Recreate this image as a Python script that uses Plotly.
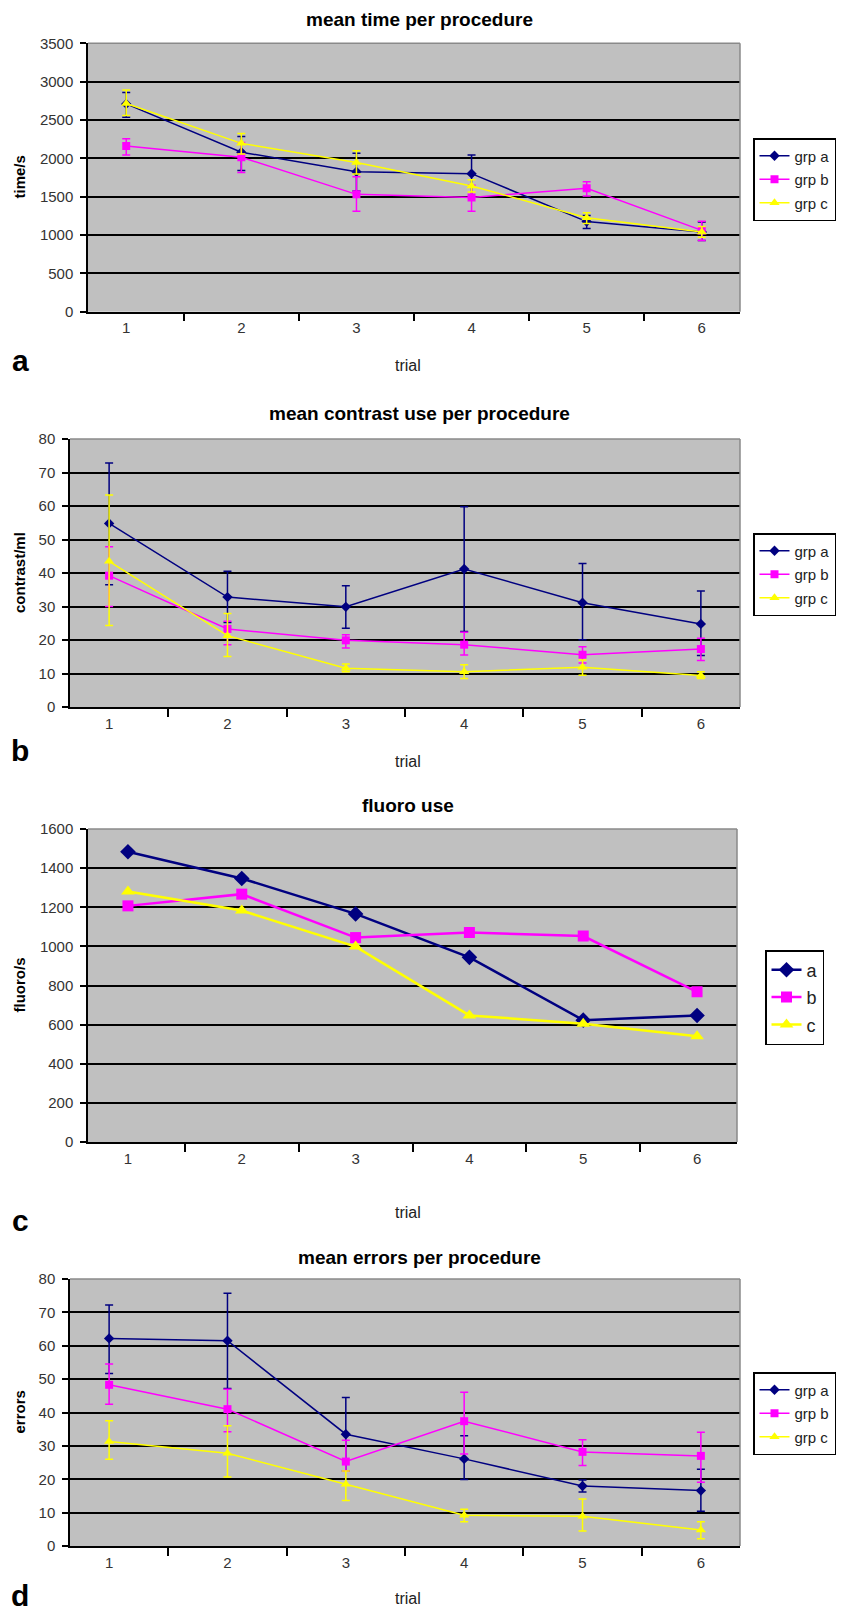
import plotly.graph_objects as go

W, H = 844, 1611

trials = ["1", "2", "3", "4", "5", "6"]

# ---- panel a: mean time per procedure (time/s)
time_a = [2710, 2080, 1825, 1800, 1175, 1040]
time_a_plus = [150, 205, 240, 245, 80, 130]
time_a_minus = [175, 240, 250, 300, 90, 110]
time_b = [2160, 2015, 1530, 1490, 1610, 1060]
time_b_plus = [95, 190, 230, 160, 85, 120]
time_b_minus = [115, 200, 220, 180, 100, 130]
time_c = [2715, 2195, 1945, 1640, 1225, 1040]
time_c_plus = [175, 130, 155, 80, 65, 70]
time_c_minus = [155, 140, 150, 80, 75, 70]

# ---- panel b: mean contrast use per procedure (contrast/ml)
con_a = [54.8, 32.8, 29.9, 41.2, 31.1, 24.8]
con_a_plus = [18.0, 7.7, 6.3, 18.6, 11.7, 9.8]
con_a_minus = [18.3, 7.6, 6.4, 18.7, 11.0, 9.4]
con_b = [39.2, 23.3, 19.9, 18.6, 15.6, 17.3]
con_b_plus = [8.6, 2.3, 1.7, 3.7, 2.4, 3.2]
con_b_minus = [9.2, 4.7, 2.3, 3.1, 2.5, 3.4]
con_c = [43.5, 21.3, 11.6, 10.5, 11.9, 9.4]
con_c_plus = [19.8, 6.6, 1.2, 2.1, 2.1, 1.1]
con_c_minus = [19.2, 6.2, 1.1, 2.0, 2.4, 0.9]

# ---- panel c: fluoro use (fluoro/s)
flu_a = [1484, 1347, 1166, 944, 623, 647]
flu_b = [1207, 1267, 1045, 1071, 1053, 768]
flu_c = [1281, 1183, 999, 647, 605, 540]

# ---- panel d: mean errors per procedure (errors)
err_a = [62.2, 61.5, 33.5, 26.1, 18.0, 16.6]
err_a_plus = [10.0, 14.2, 11.0, 6.9, 1.8, 6.4]
err_a_minus = [10.5, 14.3, 11.0, 6.2, 1.8, 6.2]
err_b = [48.3, 41.0, 25.3, 37.4, 28.2, 27.0]
err_b_plus = [6.2, 6.0, 6.4, 8.7, 3.6, 7.1]
err_b_minus = [5.8, 6.8, 2.8, 9.8, 4.1, 7.9]
err_c = [31.3, 27.8, 18.5, 9.2, 8.9, 4.8]
err_c_plus = [6.2, 8.2, 4.0, 1.8, 5.2, 2.5]
err_c_minus = [5.3, 7.1, 4.9, 1.9, 4.4, 2.6]

names_grp = ["grp a", "grp b", "grp c"]
names_short = ["a", "b", "c"]

NAVY = "#000080"
MAGENTA = "#ff00ff"
YELLOW = "#ffff00"
COLORS = [NAVY, MAGENTA, YELLOW]
SYMBOLS = ["diamond", "square", "triangle-up"]
FONT = "Liberation Sans, Arial, sans-serif"


def px(v):
    return v / W


def py(v):
    return 1 - v / H


fig = go.Figure()


def add_series(idx, vals, names, sizes, lw, plus=None, minus=None, leg="legend"):
    xa = "x" if idx == 1 else f"x{idx}"
    ya = "y" if idx == 1 else f"y{idx}"
    for k in range(3):
        tr = dict(
            x=trials, y=vals[k], name=names[k], mode="lines+markers",
            line=dict(color=COLORS[k], width=lw),
            marker=dict(symbol=SYMBOLS[k], size=sizes[k], color=COLORS[k]),
            xaxis=xa, yaxis=ya, legend=leg, legendgroup=f"{leg}{k}",
        )
        if plus is not None:
            tr["error_y"] = dict(type="data", symmetric=False, array=plus[k],
                                 arrayminus=minus[k], color=COLORS[k],
                                 thickness=1.5, width=4)
        fig.add_trace(go.Scatter(**tr))


small = [8, 8, 9]
big = [12, 11, 12]
add_series(1, [time_a, time_b, time_c], names_grp, small, 1.5,
           [time_a_plus, time_b_plus, time_c_plus],
           [time_a_minus, time_b_minus, time_c_minus], "legend")
add_series(2, [con_a, con_b, con_c], names_grp, small, 1.5,
           [con_a_plus, con_b_plus, con_c_plus],
           [con_a_minus, con_b_minus, con_c_minus], "legend2")
add_series(3, [flu_a, flu_b, flu_c], names_short, big, 2.5, leg="legend3")
add_series(4, [err_a, err_b, err_c], names_grp, small, 1.5,
           [err_a_plus, err_b_plus, err_c_plus],
           [err_a_minus, err_b_minus, err_c_minus], "legend4")

panels = [
    dict(xl=88, xr=740, yt=43.3, yb=311.7, ymax=3500, dt=500,
         title="mean time per procedure", ytitle="time/s", letter="a",
         ty=19, ly=360, try_=365, lx=753, lgy=138, leg_font=15, gap=1),
    dict(xl=70, xr=740, yt=439, yb=707, ymax=80, dt=10,
         title="mean contrast use per procedure", ytitle="contrast/ml", letter="b",
         ty=413, ly=750, try_=761, lx=753, lgy=533, leg_font=15, gap=1),
    dict(xl=88, xr=737, yt=829, yb=1142, ymax=1600, dt=200,
         title="fluoro use", ytitle="fluoro/s", letter="c",
         ty=805, ly=1220, try_=1212, lx=765, lgy=950, leg_font=18, gap=1),
    dict(xl=70, xr=740, yt=1279, yb=1546, ymax=80, dt=10,
         title="mean errors per procedure", ytitle="errors", letter="d",
         ty=1257, ly=1595, try_=1598, lx=753, lgy=1372, leg_font=15, gap=1),
]

layout = dict(
    width=W, height=H, margin=dict(l=0, r=0, t=0, b=0, autoexpand=False),
    paper_bgcolor="white", plot_bgcolor="#c0c0c0",
    font=dict(family=FONT, color="#222", size=14),
    showlegend=True,
)
annotations = []
shapes = []
for i, p in enumerate(panels, start=1):
    sx = "" if i == 1 else str(i)
    layout[f"xaxis{sx}"] = dict(
        domain=[px(p["xl"]), px(p["xr"])], anchor=f"y{sx}",
        type="category", categoryorder="array", categoryarray=trials,
        tickson="boundaries", ticks="outside", ticklen=8, tickwidth=1.5,
        tickcolor="black", showline=True, linecolor="black", linewidth=1.5,
        showgrid=False, zeroline=False, ticklabelstandoff=2, automargin=False,
        tickfont=dict(size=15, color="#333"), fixedrange=True,
    )
    layout[f"yaxis{sx}"] = dict(
        domain=[py(p["yb"]), py(p["yt"])], anchor=f"x{sx}",
        range=[0, p["ymax"]], dtick=p["dt"], tick0=0,
        ticks="outside", ticklen=6, tickwidth=1.5, tickcolor="black",
        showline=True, linecolor="black", linewidth=1.5,
        showgrid=True, gridcolor="black", gridwidth=1.5, zeroline=False,
        ticklabelstandoff=4, tickfont=dict(size=15, color="#333"),
        fixedrange=True, automargin=False,
    )
    lname = "legend" if i == 1 else f"legend{i}"
    layout[lname] = dict(
        x=px(p["lx"]), y=py(p["lgy"]), xanchor="left", yanchor="top",
        bgcolor="white", bordercolor="black", borderwidth=1.5,
        font=dict(size=p["leg_font"], color="#222", family=FONT),
        tracegroupgap=p["gap"], itemwidth=30, itemclick=False,
        itemdoubleclick=False,
    )
    annotations.append(dict(
        text=f"<b>{p['title']}</b>", x=px(419 if i != 3 else 408), y=py(p["ty"]),
        xref="paper", yref="paper", showarrow=False, xanchor="center",
        yanchor="middle", font=dict(size=19, color="black", family=FONT)))
    annotations.append(dict(
        text=f"<b>{p['ytitle']}</b>", x=px(19), y=py((p["yt"] + p["yb"]) / 2),
        xref="paper", yref="paper", showarrow=False, textangle=-90,
        xanchor="center", yanchor="middle",
        font=dict(size=15, color="black", family=FONT)))
    annotations.append(dict(
        text="trial", x=px(408), y=py(p["try_"]), xref="paper", yref="paper",
        showarrow=False, xanchor="center", yanchor="middle",
        font=dict(size=16, color="#222", family=FONT)))
    annotations.append(dict(
        text=f"<b>{p['letter']}</b>", x=px(20), y=py(p["ly"]), xref="paper",
        yref="paper", showarrow=False, xanchor="center", yanchor="middle",
        font=dict(size=30, color="black", family=FONT)))
    shapes.append(dict(type="line", xref=f"x{sx} domain", yref=f"y{sx} domain",
                       x0=0, x1=1, y0=1, y1=1, layer="above",
                       line=dict(color="#8a8a8a", width=1.5)))
    shapes.append(dict(type="line", xref=f"x{sx} domain", yref=f"y{sx} domain",
                       x0=1, x1=1, y0=0, y1=1, layer="above",
                       line=dict(color="#8a8a8a", width=1.5)))

layout["annotations"] = annotations
layout["shapes"] = shapes
fig.update_layout(**layout)

fig.write_html("out.html", config={"displayModeBar": False},
               post_script="document.body.style.margin='0';")
